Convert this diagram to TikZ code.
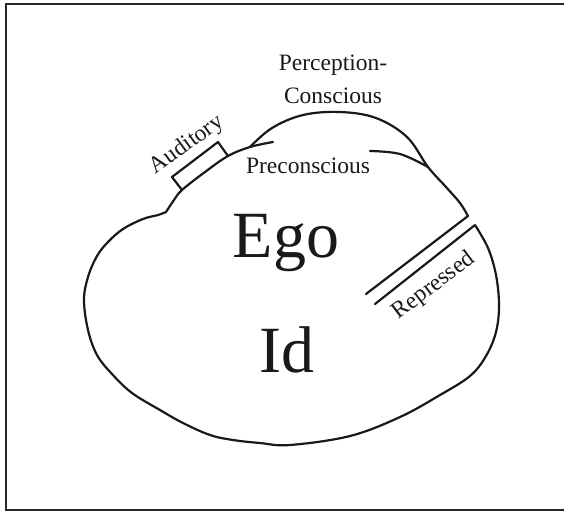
\documentclass[tikz,border=0pt]{standalone}
\usepackage{fontspec}
\setmainfont{Liberation Serif}
\begin{document}
\begin{tikzpicture}[x=1pt,y=-1pt,
  outline/.style={line width=2.2pt,line join=round,line cap=round,draw=black!90},
  lbl/.style={font=\fontsize{23.5}{33}\selectfont,text=black!90,inner sep=0pt},
  big/.style={font=\fontsize{66}{70}\selectfont,text=black!90,inner sep=0pt}]
\useasboundingbox (0,0) rectangle (564,512);
% frame
\draw[line width=2pt,draw=black!85] (580,4) -- (6,4) -- (6,510) -- (580,510);
% main outline (lower part)
\draw[outline] (375,304) -- (475,225)
  plot[smooth,tension=0.6] coordinates {(475,225) (488,248) (496,275) (499,305) (496,332) (486,356) (470,376) (440,395) (400,417) (350,436) (290,445) (260,443) (233,440) (210,435) (183,423) (160,410) (132,393) (112,374) (97,355) (88,330) (84,300) (88,277) (97,256) (108,242) (123,229) (143,219) (158,215) (166,212)};
% notch to preconscious boundary
\draw[outline] plot[smooth,tension=0.6] coordinates {(166,212) (174,200) (182,190) (205,172) (228,156) (250,147) (273,142)};
% perception-conscious bulge
\draw[outline] plot[smooth,tension=0.6] coordinates {(250,147) (272,128) (303,115) (340,112) (376,118) (407,137) (428,167) (446,187) (460,203) (468,216)};
\draw[outline] plot[smooth,tension=0.6] coordinates {(370,151) (400,154) (428,167)};
% repressed bar
\draw[outline] (468,216) -- (366,294);
% auditory box
\draw[outline] (182,190) -- (172,177) -- (218,142) -- (228,156);
% texts
\node[lbl,align=center,anchor=base] (pc) at (333,103) {Perception-\\Conscious};
\node[lbl,anchor=base] (pre) at (308,173) {Preconscious};
\node[lbl,rotate=36] (aud) at (187,145) {Auditory};
\node[lbl,rotate=37] (rep) at (434,286) {Repressed};
\node[big,anchor=base] (ego) at (286,257) {Ego};
\node[big,anchor=base] (id) at (287,372) {Id};
\end{tikzpicture}
\end{document}
